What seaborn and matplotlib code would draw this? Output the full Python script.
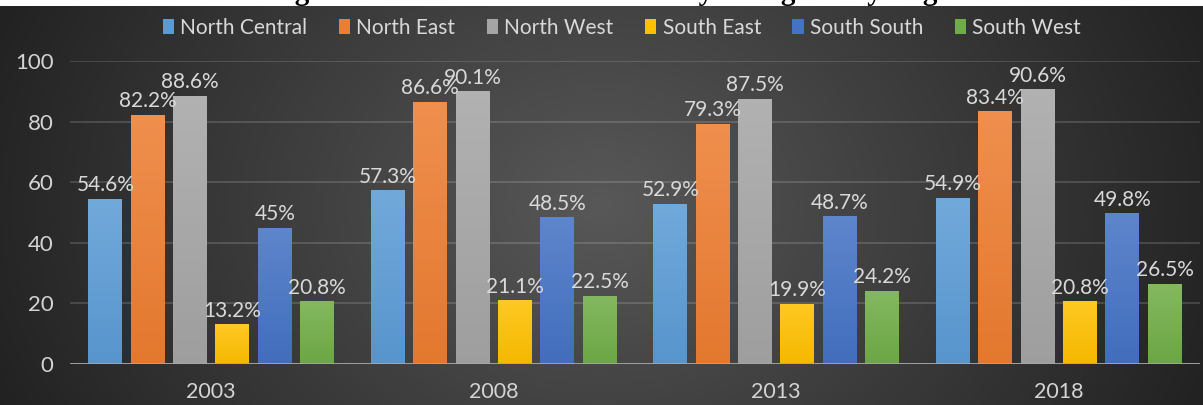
import numpy as np
import pandas as pd
import matplotlib
matplotlib.use("Agg")
import matplotlib.pyplot as plt
import matplotlib.colors as mcolors
import seaborn as sns

# Chart data
years = ["2003", "2008", "2013", "2018"]
regions = ["North Central", "North East", "North West",
           "South East", "South South", "South West"]
north_central = [54.6, 57.3, 52.9, 54.9]
north_east = [82.2, 86.6, 79.3, 83.4]
north_west = [88.6, 90.1, 87.5, 90.6]
south_east = [13.2, 21.1, 19.9, 20.8]
south_south = [45.0, 48.5, 48.7, 49.8]
south_west = [20.8, 22.5, 24.2, 26.5]
value_labels = {
    "North Central": ["54.6%", "57.3%", "52.9%", "54.9%"],
    "North East": ["82.2%", "86.6%", "79.3%", "83.4%"],
    "North West": ["88.6%", "90.1%", "87.5%", "90.6%"],
    "South East": ["13.2%", "21.1%", "19.9%", "20.8%"],
    "South South": ["45%", "48.5%", "48.7%", "49.8%"],
    "South West": ["20.8%", "22.5%", "24.2%", "26.5%"],
}
title_text = "Figure 4: Rates of Women Illiteracy in Nigeria by Regions"

series = [north_central, north_east, north_west, south_east, south_south, south_west]
colors = ["#5B9BD5", "#ED7D31", "#A5A5A5", "#FFC000", "#4472C4", "#70AD47"]

df = pd.DataFrame({
    "Year": np.repeat([years], len(regions), axis=0).ravel(),
    "Region": np.repeat(regions, len(years)),
    "Value": np.concatenate(series),
})

sns.set_theme(style="dark")
plt.rcParams["font.family"] = ["Lato", "DejaVu Sans"]

W, H = 1203, 405
fig = plt.figure(figsize=(W / 100, H / 100), dpi=100)
fig.patch.set_facecolor("white")

# Dark radial background panel below a thin white strip
strip = 6 / H
bg_ax = fig.add_axes([0, 0, 1, 1 - strip])
bg_ax.set_axis_off()
gx, gy = np.meshgrid(np.linspace(0, 1, 600), np.linspace(0, 1, 200))
r = np.sqrt(((gx - 0.5) / 0.55) ** 2 + ((gy - 0.5) / 1.3) ** 2)
r = np.clip(r, 0, 1)
c_in = np.array(mcolors.to_rgb("#585858"))
c_out = np.array(mcolors.to_rgb("#212121"))
img = c_in[None, None, :] * (1 - r[..., None]) + c_out[None, None, :] * r[..., None]
bg_ax.imshow(img, aspect="auto", extent=[0, 1, 0, 1], origin="lower")
bg_ax.set_xlim(0, 1)
bg_ax.set_ylim(0, 1)

# Title sits mostly above the canvas; only its descenders show in the strip
fig.text(0.522, 1 - 0.5 / H, title_text, ha="center", va="baseline",
         fontsize=21, fontweight="bold", color="black",
         family=["Liberation Serif", "DejaVu Serif"])

left, right = 70 / W, 1200 / W
bottom, top = (H - 364) / H, (H - 61) / H
ax = fig.add_axes([left, bottom, right - left, top - bottom])
ax.patch.set_alpha(0)

sns.barplot(data=df, x="Year", y="Value", hue="Region", order=years,
            hue_order=regions, palette=colors, width=0.9, gap=0.2,
            saturation=1, ax=ax, legend=True, edgecolor="none")

ax.set_xlim(-0.5, 3.5)
ax.set_ylim(0, 100)
ax.set_yticks([0, 20, 40, 60, 80, 100])
ax.set_xlabel("")
ax.set_ylabel("")
for s in ax.spines.values():
    s.set_visible(False)
ax.grid(axis="y", color="#ffffff", alpha=0.16, linewidth=1.3)
ax.grid(axis="x", visible=False)
ax.set_axisbelow(True)
ax.axhline(0, color="#a6a6a6", linewidth=2, zorder=3)
ax.tick_params(axis="y", length=0, pad=12, labelsize=16, labelcolor="#d4d4d4")
ax.tick_params(axis="x", length=0, pad=13, labelsize=15.5, labelcolor="#d4d4d4")

# Vertical gradient fill on each bar, labels above
def mix(c, other, t):
    c = np.array(mcolors.to_rgb(c))
    o = np.array(mcolors.to_rgb(other))
    return c * (1 - t) + o * t

for container, region, col in zip(ax.containers, regions, colors):
    top_c = mix(col, "white", 0.14)
    bot_c = mix(col, "black", 0.04)
    for patch, lab in zip(container.patches, value_labels[region]):
        x0, w = patch.get_x(), patch.get_width()
        h = patch.get_height()
        t = np.linspace(0, 1, 64)[:, None]
        grad = bot_c[None, :] * (1 - t) + top_c[None, :] * t
        grad = grad[:, None, :]
        im = ax.imshow(grad, extent=[x0, x0 + w, 0, h], origin="lower",
                       aspect="auto", zorder=2.5)
        im.set_clip_path(patch)
        ax.annotate(lab, (x0 + w / 2, h), xytext=(0, 2.5),
                    textcoords="offset points", ha="center", va="bottom",
                    fontsize=15, color="#d9d9d9", zorder=5,
                    annotation_clip=False)

ax.set_xlim(-0.5, 3.5)
ax.set_ylim(0, 100)

handles, labels = ax.get_legend_handles_labels()
ax.get_legend().remove()
leg = fig.legend(handles, labels, loc="center", bbox_to_anchor=(0.517, 1 - 28 / H),
                 ncol=6, frameon=False, fontsize=15, handlelength=0.55,
                 handleheight=0.75, handletextpad=0.3, columnspacing=1.5,
                 labelcolor="#d9d9d9")

fig.savefig("out.png", dpi=100, facecolor=fig.get_facecolor())
